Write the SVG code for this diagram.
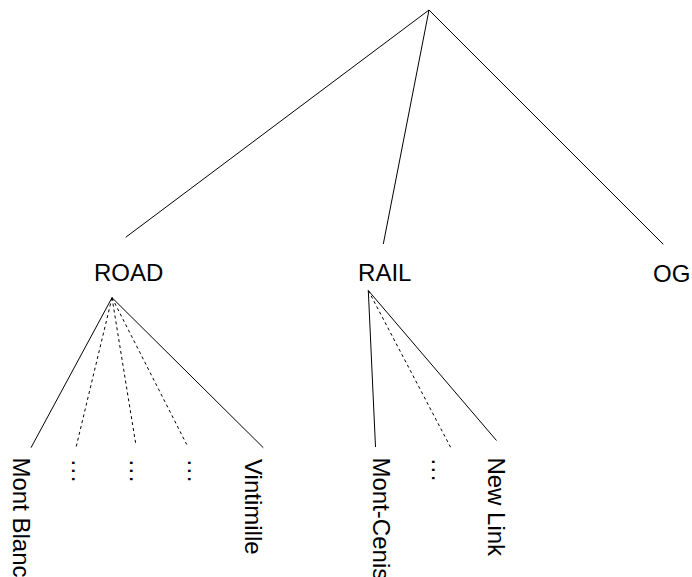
<svg xmlns="http://www.w3.org/2000/svg" width="692" height="577" viewBox="0 0 692 577">
<style>
text{font-family:"Liberation Sans",Arial,sans-serif;font-size:24px;fill:#000}
.h{text-anchor:middle}
.e{stroke:#000;stroke-width:1;fill:none}
.d{stroke-dasharray:3,3}
.dots{letter-spacing:1.5px}
</style>
<rect width="692" height="577" fill="#fff"/>
<g id="connectors">
<line class="e" x1="429" y1="10" x2="125.7" y2="237.3"/>
<line class="e" x1="429" y1="10" x2="383.3" y2="244"/>
<line class="e" x1="429" y1="10" x2="663.3" y2="244.3"/>
<line class="e" x1="112" y1="297.7" x2="31" y2="447.7"/>
<line class="e d" x1="112" y1="297.7" x2="76" y2="447.5"/>
<line class="e d" x1="112" y1="297.7" x2="136" y2="445.5"/>
<line class="e d" x1="112" y1="297.7" x2="186.7" y2="444.5"/>
<line class="e" x1="112" y1="297.7" x2="263.3" y2="447.7"/>
<line class="e" x1="368.3" y1="290.5" x2="375.5" y2="447"/>
<line class="e d" x1="368.3" y1="290.5" x2="450.7" y2="447.5"/>
<line class="e" x1="368.3" y1="290.5" x2="496.5" y2="440.5"/>
</g>
<g id="root"/>
<g id="road"><text class="h" x="128.7" y="281.3">ROAD</text></g>
<g id="rail"><text class="h" x="384.8" y="281.3">RAIL</text></g>
<g id="og"><text class="h" x="671.7" y="281.6">OG</text></g>
<g id="montblanc"><text transform="translate(13.3,457.5) rotate(90)">Mont Blanc</text></g>
<g id="road-dots1"><text class="dots" transform="translate(72.1,459.4) rotate(90)">...</text></g>
<g id="road-dots2"><text class="dots" transform="translate(129.8,459.4) rotate(90)">...</text></g>
<g id="road-dots3"><text class="dots" transform="translate(187.5,459.4) rotate(90)">...</text></g>
<g id="vintimille"><text transform="translate(245,459) rotate(90)">Vintimille</text></g>
<g id="montcenis"><text transform="translate(373.3,457.5) rotate(90)">Mont-Cenis</text></g>
<g id="rail-dots"><text class="dots" transform="translate(431.5,458.4) rotate(90)">...</text></g>
<g id="newlink"><text transform="translate(488.3,457.4) rotate(90)">New Link</text></g>
</svg>
